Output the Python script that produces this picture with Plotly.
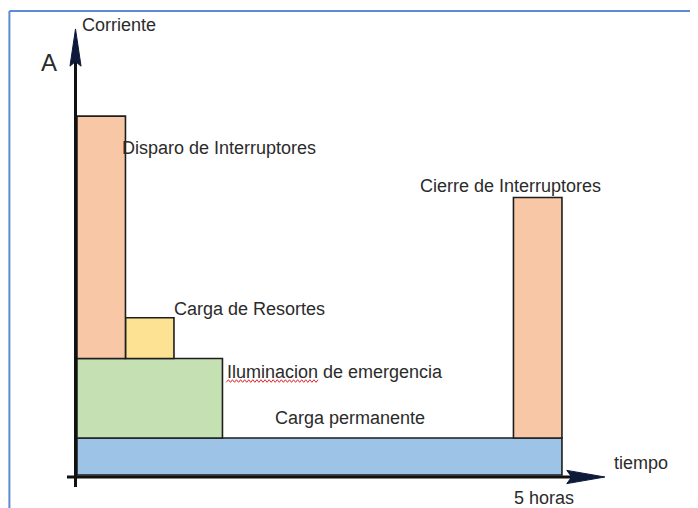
import plotly.graph_objects as go

# Perfil de carga de la bateria (unidades arbitrarias de corriente, tiempo en horas)
cargas = ["Carga permanente", "Iluminacion de emergencia", "Carga de Resortes",
          "Disparo de Interruptores", "Cierre de Interruptores"]
t_inicio = [0.0, 0.0, 0.5, 0.0, 4.5]
t_fin = [5.0, 1.5, 1.0, 0.5, 5.0]
i_base = [0.0, 2.0, 6.3, 6.3, 2.0]
i_tope = [2.0, 6.3, 8.5, 19.4, 15.0]
colores = ["#9dc3e6", "#c5e0b3", "#fde293", "#f8c8a6", "#f8c8a6"]

FONT = "Liberation Sans, Arial, sans-serif"
TXT = "#2b2b2b"
NAVY = "#0d1a3a"

fig = go.Figure()
for nombre, a, b, lo, hi, c in zip(cargas, t_inicio, t_fin, i_base, i_tope, colores):
    fig.add_trace(go.Bar(
        x=[(a + b) / 2], width=[b - a], base=[lo], y=[hi - lo],
        marker=dict(color=c, line=dict(color="#1e1e1e", width=1.6)),
        name=nombre, hoverinfo="name",
    ))

# ejes con flechas (puntas alargadas dibujadas como triangulos)
fig.add_shape(type="line", x0=-0.015, x1=-0.015, y0=-0.65, y1=22.4,
              line=dict(color="#111111", width=3))
fig.add_shape(type="line", x0=-0.103, x1=5.1, y0=-0.108, y1=-0.108,
              line=dict(color="#111111", width=3))
fig.add_shape(type="path", path="M -0.015 24.11 L -0.072 22.10 L -0.015 22.35 L 0.042 22.10 Z",
              fillcolor=NAVY, line=dict(color=NAVY, width=1))
fig.add_shape(type="path", path="M 5.443 -0.108 L 5.05 0.25 L 5.10 -0.108 L 5.05 -0.466 Z",
              fillcolor=NAVY, line=dict(color=NAVY, width=1))

# rotulos
rotulos = [
    ("Disparo de Interruptores", 0.44, 17.7, 18),
    ("Cierre de Interruptores", 3.52, 15.6, 18),
    ("Carga de Resortes", 0.98, 9.0, 18),
    ("Iluminacion de emergencia", 1.53, 5.57, 18),
    ("Carga permanente", 2.02, 3.08, 18),
    ("tiempo", 5.52, 0.65, 18),
    ("5 horas", 4.49, -1.24, 18),
    ("Corriente", 0.03, 24.3, 18),
]
for txt, x, y, s in rotulos:
    fig.add_annotation(x=x, y=y, text=txt, showarrow=False, xanchor="left",
                       yanchor="middle", font=dict(family=FONT, size=s, color=TXT))
fig.add_annotation(x=-0.29, y=22.3, text="A", showarrow=False,
                   font=dict(family=FONT, size=24, color=TXT))

# subrayado ondulado rojo del corrector bajo "Iluminacion"
pts = []
x, k = 1.54, 0
while x <= 2.50:
    pts.append(f"{'M' if k == 0 else 'L'} {x:.3f} {5.08 + (0.07 if k % 2 else -0.07):.3f}")
    x += 0.021
    k += 1
fig.add_shape(type="path", path=" ".join(pts), line=dict(color="#e0282a", width=1))

# marco azul (borde superior e izquierdo)
fig.add_shape(type="line", xref="paper", yref="paper", x0=0.002, x1=1.0,
              y0=0.9941, y1=0.9941, line=dict(color="#5b8bd0", width=2))
fig.add_shape(type="line", xref="paper", yref="paper", x0=0.002, x1=0.002,
              y0=0.0, y1=0.9941, line=dict(color="#5b8bd0", width=2))

fig.update_layout(
    width=698, height=508,
    margin=dict(l=0, r=0, t=0, b=0),
    barmode="overlay", showlegend=False,
    plot_bgcolor="white", paper_bgcolor="white",
    xaxis=dict(range=[-0.711, 6.485], visible=False, fixedrange=True),
    yaxis=dict(range=[-2.216, 25.243], visible=False, fixedrange=True),
)
fig.write_html("out.html")
